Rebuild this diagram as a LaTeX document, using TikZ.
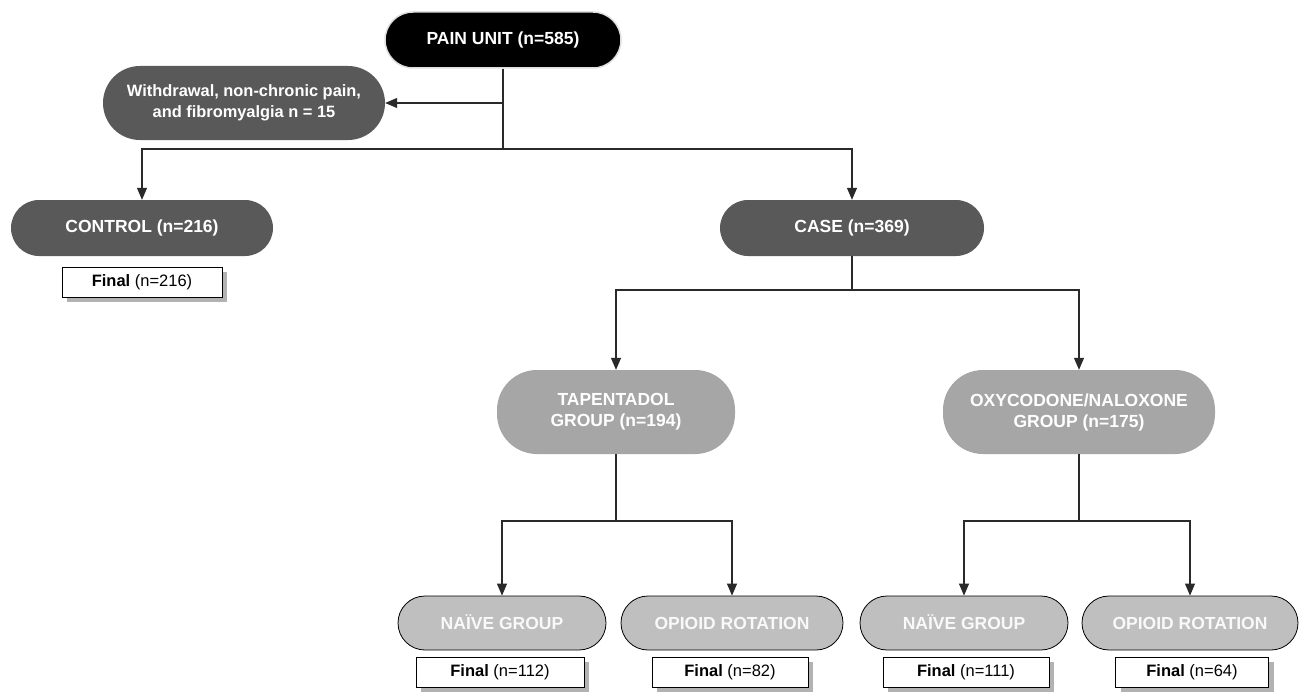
\documentclass[tikz,border=0pt]{standalone}
\usepackage{fontspec}
\setmainfont{Liberation Sans}
\usetikzlibrary{arrows.meta,shadows,calc}
\definecolor{darkbox}{HTML}{595959}
\definecolor{midbox}{HTML}{A6A6A6}
\definecolor{lightbox}{HTML}{BFBFBF}
\definecolor{linecol}{HTML}{2A2A2A}
\tikzset{
  pill/.style={inner sep=0pt, align=center, text=white, font=\fontsize{17.5}{21}\selectfont\bfseries},
  blackpill/.style={pill, fill=black, draw=gray!25, line width=1.5pt, minimum width=236pt, minimum height=56pt, rounded corners=28pt},
  darkpill/.style={pill, fill=darkbox, rounded corners=28pt, minimum height=56pt},
  midpill/.style={pill, fill=midbox, rounded corners=40pt, minimum height=84pt},
  lightpill/.style={pill, fill=lightbox, draw=black, line width=0.8pt, text=white!95!gray, rounded corners=27pt, minimum height=54pt, text height=12.5pt, text depth=0pt},
  finalbox/.style={draw=black, line width=0.8pt, fill=white, minimum height=30pt, inner sep=0pt,
     font=\fontsize{16.5}{19}\selectfont, text height=12pt, text depth=3.5pt,
     drop shadow={shadow xshift=5pt, shadow yshift=-5pt, fill=gray!75, opacity=0.8}},
  conn/.style={draw=linecol, line width=1.1pt},
  arr/.style={conn, -{Triangle[length=12pt,width=10pt]}}
}
\begin{document}
\begin{tikzpicture}[x=1pt,y=1pt]
\useasboundingbox (0,0) rectangle (1306,-693);
\fill[white] (0,0) rectangle (1306,-693);
% nodes
\node[blackpill] (pain) at (503,-40) {PAIN UNIT (n=585)};
\node[darkpill, minimum width=282pt, minimum height=74pt, rounded corners=37pt, font=\fontsize{16.4}{21}\selectfont\bfseries] (withdraw) at (244,-103) {Withdrawal, non-chronic pain,\\and fibromyalgia n = 15};
\node[darkpill, minimum width=262pt] (control) at (142,-228) {CONTROL (n=216)};
\node[finalbox, minimum width=160pt] (f216) at (142,-282) {\textbf{Final} (n=216)};
\node[darkpill, minimum width=264pt] (case) at (852,-228) {CASE (n=369)};
\node[midpill, minimum width=238pt] (tap) at (616,-412) {TAPENTADOL\\GROUP (n=194)};
\node[midpill, minimum width=272pt] (oxy) at (1079,-412) {OXYCODONE/NALOXONE\\GROUP (n=175)};
\node[lightpill, minimum width=208pt] (naive1) at (502,-623) {NAÏVE GROUP};
\node[lightpill, minimum width=222pt] (opi1) at (732,-623) {OPIOID ROTATION};
\node[lightpill, minimum width=208pt] (naive2) at (964,-623) {NAÏVE GROUP};
\node[lightpill, minimum width=216pt] (opi2) at (1190,-623) {OPIOID ROTATION};
\node[finalbox, minimum width=168pt] (f112) at (500,-672) {\textbf{Final} (n=112)};
\node[finalbox, minimum width=156pt] (f82) at (730,-672) {\textbf{Final} (n=82)};
\node[finalbox, minimum width=166pt] (f111) at (966,-672) {\textbf{Final} (n=111)};
\node[finalbox, minimum width=153pt] (f64) at (1192,-672) {\textbf{Final} (n=64)};
% junctions
\coordinate (j1) at (503,-149);
\coordinate (j2) at (852,-290);
\coordinate (j3) at (616,-521);
\coordinate (j4) at (1079,-521);
% connectors
\draw[conn] (pain.south) -- (j1);
\draw[arr] (pain.south |- withdraw.east) -- (withdraw.east);
\draw[arr] (j1) -| (control.north);
\draw[arr] (j1) -| (case.north);
\draw[conn] (case.south) -- (j2);
\draw[arr] (j2) -| (tap.north);
\draw[arr] (j2) -| (oxy.north);
\draw[conn] (tap.south) -- (j3);
\draw[arr] (j3) -| (naive1.north);
\draw[arr] (j3) -| (opi1.north);
\draw[conn] (oxy.south) -- (j4);
\draw[arr] (j4) -| (naive2.north);
\draw[arr] (j4) -| (opi2.north);
\end{tikzpicture}
\end{document}
